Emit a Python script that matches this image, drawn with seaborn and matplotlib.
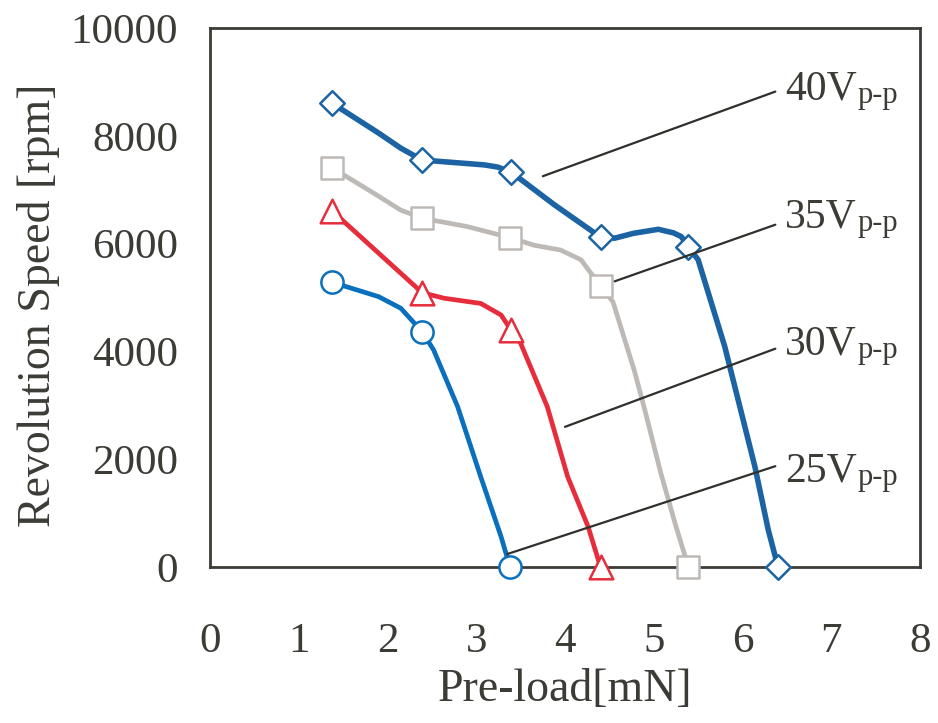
import matplotlib
matplotlib.use("Agg")
import matplotlib.pyplot as plt
import seaborn as sns
import pandas as pd

# ---------------- data ----------------
x_ticks = [0, 1, 2, 3, 4, 5, 6, 7, 8]
y_ticks = [0, 2000, 4000, 6000, 8000, 10000]

series = ["25V", "30V", "35V", "40V"]

# measured points (with markers)
mx_25 = [1.38, 2.39, 3.38]
my_25 = [5280, 4365, 0]
mx_30 = [1.38, 2.39, 3.39, 4.40]
my_30 = [6600, 5090, 4400, 0]
mx_35 = [1.38, 2.39, 3.38, 4.40, 5.39]
my_35 = [7400, 6470, 6110, 5210, 0]
mx_40 = [1.38, 2.39, 3.39, 4.40, 5.39, 6.40]
my_40 = [8600, 7550, 7330, 6120, 5940, 0]

# traced smooth curves
cx_25 = [1.38, 1.90, 2.15, 2.39, 2.52, 2.79, 3.05, 3.28, 3.38]
cy_25 = [5280, 5015, 4800, 4365, 4025, 2975, 1675, 560, 0]
cx_30 = [1.38, 2.39, 2.64, 3.05, 3.28, 3.39, 3.50, 3.80, 4.03, 4.26, 4.40]
cy_30 = [6600, 5090, 4985, 4890, 4675, 4400, 4150, 2975, 1675, 750, 0]
cx_35 = [1.38, 1.84, 2.15, 2.39, 2.90, 3.38, 3.65, 3.95, 4.18, 4.40, 4.54,
         4.78, 4.90, 5.08, 5.24, 5.39]
cy_35 = [7400, 6940, 6620, 6470, 6315, 6110, 5970, 5880, 5700, 5210, 4920,
         3650, 2910, 1740, 810, 0]
cx_40 = [1.38, 1.90, 2.15, 2.39, 3.09, 3.24, 3.39, 3.88, 4.40, 4.56, 4.77,
         5.05, 5.22, 5.31, 5.39, 5.50, 5.80, 6.14, 6.29, 6.40]
cy_40 = [8600, 8050, 7770, 7550, 7460, 7420, 7330, 6720, 6120, 6100, 6190,
         6265, 6200, 6130, 5940, 5700, 4090, 1860, 690, 0]

# annotation labels: leader start (x, y), leader end (x, y), text baseline
lead_x0 = [3.35, 4.00, 4.56, 3.75]
lead_y0 = [240, 2600, 5300, 7250]
lead_x1 = [6.37, 6.37, 6.37, 6.37]
lead_y1 = [1870, 4050, 6350, 8820]
lab_x = [6.48, 6.48, 6.48, 6.48]
lab_y = [1577, 3933, 6290, 8664]

colors = {"25V": "#0a6fbd", "30V": "#e62d3c", "35V": "#bdb9b6", "40V": "#1b63a3"}
markers = {"25V": "o", "30V": "^", "35V": "s", "40V": "D"}
msize = {"25V": 16, "30V": 17, "35V": 16, "40V": 12.5}
lwidth = {"25V": 3.4, "30V": 3.4, "35V": 3.4, "40V": 4.0}

curves = {"25V": (cx_25, cy_25), "30V": (cx_30, cy_30),
          "35V": (cx_35, cy_35), "40V": (cx_40, cy_40)}
points = {"25V": (mx_25, my_25), "30V": (mx_30, my_30),
          "35V": (mx_35, my_35), "40V": (mx_40, my_40)}

# ---------------- style ----------------
sns.set_theme(style="white")
plt.rcParams["font.family"] = ["Liberation Serif", "DejaVu Serif"]
txt = "#3c3c37"
spine_c = "#3c3c37"

fig = plt.figure(figsize=(9.38, 7.23), dpi=100)
ax = fig.add_axes([0.2239, 0.2158, 0.7569, 0.7455])

for s in series:
    cx, cy = curves[s]
    df = pd.DataFrame({"x": cx, "y": cy})
    sns.lineplot(data=df, x="x", y="y", sort=False, estimator=None, ax=ax,
                 color=colors[s], linewidth=lwidth[s], legend=False,
                 zorder=3, clip_on=False, solid_joinstyle="round",
                 solid_capstyle="round")
    px, py = points[s]
    dp = pd.DataFrame({"x": px, "y": py})
    sns.scatterplot(data=dp, x="x", y="y", ax=ax, marker=markers[s],
                    s=msize[s] ** 2, color="white", edgecolor=colors[s],
                    linewidth=1.8, zorder=5, clip_on=False, legend=False)

for i in range(len(series)):
    ax.plot([lead_x0[i], lead_x1[i]], [lead_y0[i], lead_y1[i]],
            color="#2f2f2c", linewidth=1.6, zorder=6, clip_on=False)
    t = ax.text(lab_x[i], lab_y[i], series[i], fontsize=30, color=txt,
                va="baseline", ha="left", zorder=7)
    ax.annotate("p-p", xy=(1.0, 0.0), xycoords=t, xytext=(0.5, 4.5),
                textcoords="offset points", fontsize=22, color=txt,
                va="baseline", ha="left")

ax.set_xlim(0, 8)
ax.set_ylim(0, 10000)
ax.set_xticks(x_ticks)
ax.set_yticks(y_ticks)
ax.set_xticklabels([str(v) for v in x_ticks])
ax.set_yticklabels([str(v) for v in y_ticks])

ax.tick_params(axis="x", direction="in", length=8.6, width=1.5, pad=40,
               labelsize=31, colors=spine_c, labelcolor=txt)
ax.tick_params(axis="y", direction="in", length=8.6, width=1.5, pad=23,
               labelsize=31, colors=spine_c, labelcolor=txt)
for sp in ax.spines.values():
    sp.set_visible(True)
    sp.set_color(spine_c)
    sp.set_linewidth(2.0)

ax.set_xlabel("Pre-load[mN]", fontsize=33, color=txt)
ax.set_ylabel("Revolution Speed [rpm]", fontsize=33, color=txt)
ax.xaxis.set_label_coords(0.5, -0.228)
ax.xaxis.label.set_va("center")
ax.yaxis.set_label_coords(-0.242, 0.486)
ax.yaxis.label.set_va("center")
ax.grid(False)

fig.savefig("out.png", dpi=100, facecolor="white")
